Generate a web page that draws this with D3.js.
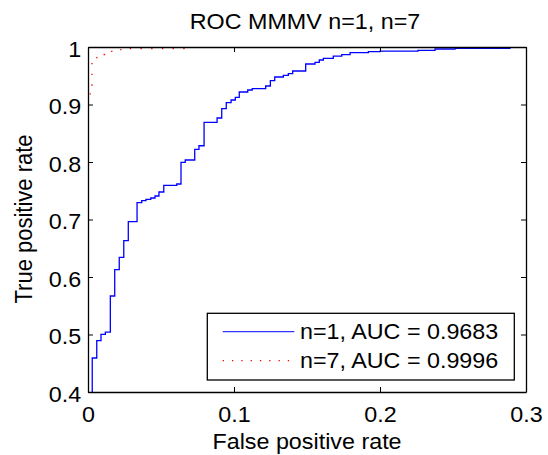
<!DOCTYPE html>
<html>
<head>
<meta charset="utf-8">
<script src="https://cdn.jsdelivr.net/npm/d3@7"></script>
<style>
  html, body { margin: 0; padding: 0; background: #fff; }
  svg { display: block; }
  text { font-family: "Liberation Sans", Arial, Helvetica, sans-serif; fill: #000; }
</style>
</head>
<body>
<svg id="chart" width="548" height="455"></svg>
<script>
// ---- data ----
const titleText = "ROC MMMV n=1, n=7";
const xLabel = "False positive rate";
const yLabel = "True positive rate";
const xTicks = [0, 0.1, 0.2, 0.3];
const xTickLabels = ["0", "0.1", "0.2", "0.3"];
const yTicks = [0.4, 0.5, 0.6, 0.7, 0.8, 0.9, 1];
const yTickLabels = ["0.4", "0.5", "0.6", "0.7", "0.8", "0.9", "1"];

// n=1 ROC (step vertices: FPR, TPR after jump)
const fpr1 = [0.0029, 0.0029, 0.0060, 0.0089, 0.0119, 0.0153, 0.0183, 0.0214, 0.0245, 0.0276,
  0.0336, 0.0368, 0.0397, 0.0430, 0.0459, 0.0486, 0.0519, 0.0608, 0.0637, 0.0666,
  0.0731, 0.0760, 0.0795, 0.0884, 0.0916, 0.0947, 0.0980, 0.1009, 0.1036, 0.1094,
  0.1125, 0.1217, 0.1249, 0.1279, 0.1338, 0.1372, 0.1402, 0.1491, 0.1555, 0.1584,
  0.1612, 0.1680, 0.1738, 0.1795, 0.1920, 0.2000, 0.2260, 0.2377, 0.2514, 0.2890, 0.3000];
const tpr1 = [0.4000, 0.4591, 0.4892, 0.5003, 0.5043, 0.5670, 0.6127, 0.6343, 0.6631, 0.6962,
  0.7292, 0.7327, 0.7351, 0.7374, 0.7409, 0.7478, 0.7595, 0.7617, 0.7995, 0.8035,
  0.8221, 0.8283, 0.8690, 0.8765, 0.8927, 0.9031, 0.9078, 0.9125, 0.9217, 0.9252,
  0.9275, 0.9322, 0.9414, 0.9478, 0.9508, 0.9536, 0.9583, 0.9704, 0.9734, 0.9774,
  0.9803, 0.9843, 0.9866, 0.9901, 0.9918, 0.9930, 0.9943, 0.9965, 0.9977, 1.0000, 1.0000];

// n=7 ROC
const fpr7 = [0.0000, 0.0000, 0.0015, 0.0027, 0.0060, 0.0114, 0.0178, 0.0240, 0.0680, 0.3000];
const tpr7 = [0.4000, 0.9050, 0.9250, 0.9750, 0.9870, 0.9925, 0.9953, 0.9972, 1.0000, 1.0000];

const seriesNames = ["n=1, AUC = 0.9683", "n=7, AUC = 0.9996"];
const seriesColors = ["#0000ff", "#ff0000"];

// ---- layout ----
const svg = d3.select("#chart");
const L = 88, R = 526, T = 47, B = 392;
const SX = 1.06; // horizontal text stretch of the reference
const FS = 22;

const x = d3.scaleLinear().domain([0, 0.3]).range([L, R]);
const y = d3.scaleLinear().domain([0.4, 1]).range([B, T]);

svg.append("defs").append("clipPath").attr("id", "plotclip")
  .append("rect").attr("x", L).attr("y", T).attr("width", R - L).attr("height", B - T);

// curves
const line = d3.line().x(d => x(d[0])).y(d => y(d[1])).curve(d3.curveStepAfter);
const s1 = fpr1.map((v, i) => [v, tpr1[i]]);
const s7 = fpr7.map((v, i) => [v, tpr7[i]]);

const plot = svg.append("g").attr("clip-path", "url(#plotclip)");
plot.append("path").datum(s7).attr("d", line)
  .attr("fill", "none").attr("stroke", seriesColors[1]).attr("stroke-width", 1.3)
  .attr("stroke-dasharray", "1.3,9.4");
plot.append("path").datum(s1).attr("d", line)
  .attr("fill", "none").attr("stroke", seriesColors[0]).attr("stroke-width", 1.3);

// axes
function styleAxis(g) {
  g.select(".domain").attr("stroke", "#000").attr("stroke-width", 1.3);
  g.selectAll(".tick line").attr("stroke", "#000").attr("stroke-width", 1);
}
const gB = svg.append("g").attr("transform", `translate(0,${B})`)
  .call(d3.axisBottom(x).tickValues(xTicks).tickSizeInner(-5).tickSizeOuter(0)
    .tickFormat((d, i) => xTickLabels[i]));
gB.selectAll(".tick text").attr("y", 29.7).attr("dy", 0)
  .attr("font-size", FS).attr("font-family", null).attr("transform", `scale(${SX},1)`);
styleAxis(gB);

const gT = svg.append("g").attr("transform", `translate(0,${T})`)
  .call(d3.axisTop(x).tickValues(xTicks).tickSizeInner(-5).tickSizeOuter(0).tickFormat(""));
styleAxis(gT);

const gL = svg.append("g").attr("transform", `translate(${L},0)`)
  .call(d3.axisLeft(y).tickValues(yTicks).tickSizeInner(-5).tickSizeOuter(0)
    .tickFormat((d, i) => yTickLabels[i]));
gL.selectAll(".tick text").attr("x", -6.5).attr("dy", 0).attr("y", 9.3)
  .attr("font-size", FS).attr("font-family", null).attr("transform", `scale(${SX},1)`);
styleAxis(gL);

const gR = svg.append("g").attr("transform", `translate(${R},0)`)
  .call(d3.axisRight(y).tickValues(yTicks).tickSizeInner(-5).tickSizeOuter(0).tickFormat(""));
styleAxis(gR);

// texts
function addText(px, py, str, anchor, rot) {
  svg.append("text")
    .attr("transform", `translate(${px},${py}) scale(${SX},1)` + (rot ? " rotate(-90)" : ""))
    .attr("text-anchor", anchor).attr("font-size", FS).text(str);
}
addText(305, 29, titleText, "middle");
addText(307, 449, xLabel, "middle");
addText(32, 219, yLabel, "middle", true);

// legend
const lg = svg.append("g");
lg.append("rect").attr("x", 207.3).attr("y", 313.3).attr("width", 307).attr("height", 66.7)
  .attr("fill", "#fff").attr("stroke", "#000").attr("stroke-width", 1.3);
const rows = lg.selectAll("g.row").data(seriesNames).join("g").attr("class", "row")
  .attr("transform", (d, i) => `translate(0,${331.7 + i * 29})`);
rows.append("line").attr("x1", 222.7).attr("x2", 294.3).attr("y1", 0).attr("y2", 0)
  .attr("stroke", (d, i) => seriesColors[i]).attr("stroke-width", (d, i) => i ? 1.3 : 1)
  .attr("stroke-dasharray", (d, i) => i ? "1.3,8" : null);
rows.append("text").attr("transform", `translate(300,7.6) scale(${SX},1)`)
  .attr("font-size", FS).text(d => d);
</script>
</body>
</html>
